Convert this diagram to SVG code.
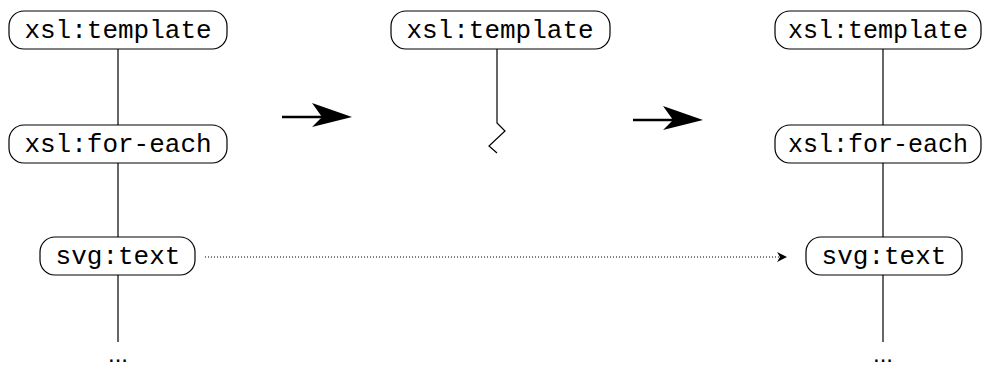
<svg xmlns="http://www.w3.org/2000/svg" width="995" height="367" viewBox="0 0 995 367">
  <defs>
    <style>
      .node { fill: #ffffff; stroke: #000000; stroke-width: 1.2; }
      .label { font-family: "Courier New", "Nimbus Mono PS", "FreeMono", "Liberation Mono", monospace; font-size: 26px; fill: #000000; text-anchor: middle; }
      .narrow { font-size: 25px; }
      .dots { font-family: "Liberation Sans", Arial, sans-serif; font-size: 24px; fill: #000000; text-anchor: middle; }
      .edge { stroke: #000000; stroke-width: 1.2; fill: none; }
      .dotted { stroke: #000000; stroke-width: 1; stroke-dasharray: 1 2; fill: none; }
      .bigarrow { stroke: #000000; stroke-width: 2.5; fill: none; }
    </style>
    <marker id="head-small" viewBox="0 0 10 10" refX="10" refY="5" markerWidth="10" markerHeight="10" markerUnits="userSpaceOnUse" orient="auto">
      <path d="M0,0 L10,5 L0,10 L3,5 Z" fill="#000000"/>
    </marker>
  </defs>

  <!-- connectors -->
  <g id="connectors">
    <!-- left tree -->
    <line class="edge" x1="118" y1="49" x2="118" y2="125"/>
    <line class="edge" x1="118" y1="163" x2="118" y2="237"/>
    <line class="edge" x1="118" y1="275" x2="118" y2="342"/>
    <!-- middle tree, broken link -->
    <polyline class="edge" points="497,49 497,123 505,131 489,146 497,153"/>
    <!-- right tree -->
    <line class="edge" x1="883" y1="49" x2="883" y2="125"/>
    <line class="edge" x1="883" y1="163" x2="883" y2="237"/>
    <line class="edge" x1="883" y1="275" x2="883" y2="342"/>
    <!-- dotted cross link -->
    <line class="dotted" x1="205" y1="257" x2="787" y2="257" marker-end="url(#head-small)"/>
    <!-- transformation arrows -->
    <g>
      <line class="bigarrow" x1="282" y1="117" x2="322" y2="117"/>
      <path d="M352,117 L312,103 L322,117 L312,127 Z" fill="#000000"/>
    </g>
    <g>
      <line class="bigarrow" x1="633" y1="120" x2="673" y2="120"/>
      <path d="M703,120 L663,106 L673,120 L663,130 Z" fill="#000000"/>
    </g>
  </g>

  <!-- left tree nodes -->
  <g id="l-template">
    <rect class="node" x="9" y="11" width="218" height="38" rx="15"/>
    <text class="label" x="118" y="38">xsl:template</text>
  </g>
  <g id="l-foreach">
    <rect class="node" x="9" y="125" width="218" height="38" rx="15"/>
    <text class="label" x="118" y="152">xsl:for-each</text>
  </g>
  <g id="l-text">
    <rect class="node" x="40" y="237" width="155" height="38" rx="15"/>
    <text class="label" x="118" y="264">svg:text</text>
  </g>
  <text class="dots" x="118" y="362">...</text>

  <!-- middle tree node -->
  <g id="m-template">
    <rect class="node" x="391" y="11" width="219" height="38" rx="15"/>
    <text class="label" x="500" y="38">xsl:template</text>
  </g>

  <!-- right tree nodes -->
  <g id="r-template">
    <rect class="node" x="775" y="11" width="206" height="38" rx="15"/>
    <text class="label narrow" x="878" y="38">xsl:template</text>
  </g>
  <g id="r-foreach">
    <rect class="node" x="775" y="125" width="206" height="38" rx="15"/>
    <text class="label narrow" x="878" y="152">xsl:for-each</text>
  </g>
  <g id="r-text">
    <rect class="node" x="806" y="237" width="156" height="38" rx="15"/>
    <text class="label" x="884" y="264">svg:text</text>
  </g>
  <text class="dots" x="883" y="362">...</text>
</svg>
